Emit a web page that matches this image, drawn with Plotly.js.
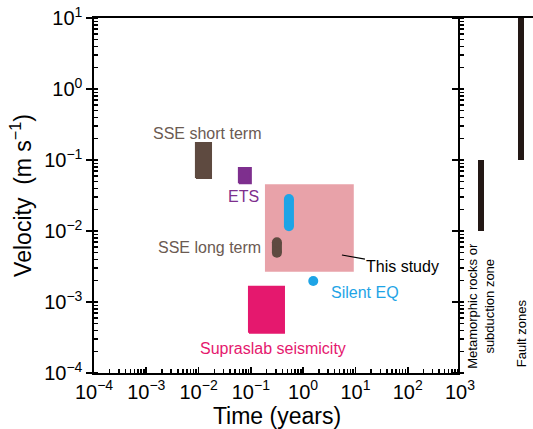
<!DOCTYPE html>
<html>
<head>
<meta charset="utf-8">
<script src="https://cdn.plot.ly/plotly-3.0.1.min.js"></script>
<style>html,body{margin:0;padding:0;background:#fff;}#chart{width:533px;height:429px;}</style>
</head>
<body>
<div id="chart"></div>
<script>
// ---- data ----
// rectangular regions in the main panel: time range (years), velocity range (m/s)
const boxNames  = ['This study', 'SSE short term', 'ETS', 'Supraslab seismicity'];
const boxTime0  = [0.186, 0.0089, 0.059, 0.092];
const boxTime1  = [9.3,   0.0173, 0.100, 0.43];
const boxVel0   = [0.00267, 0.0557, 0.047, 0.00037];
const boxVel1   = [0.0455,  0.174,  0.077, 0.00164];

// elongated (rounded) regions: single time, velocity range
const pillNames = ['Silent EQ (range)', 'SSE long term'];
const pillTime  = [0.535, 0.315];
const pillVel0  = [0.0117, 0.00494];
const pillVel1  = [0.0283, 0.00693];

// point
const dotName = 'Silent EQ';
const dotTime = [1.56];
const dotVel  = [0.00198];

// right panel: velocity ranges
const sideCats = ['Metamorphic rocks or<br>subduction zone', 'Fault zones'];
const sideVel0 = [0.01, 0.1];
const sideVel1 = [0.1, 10];

// ticks
const xTickVals = [1e-4, 1e-3, 1e-2, 1e-1, 1e0, 1e1, 1e2, 1e3];
const xTickText = ['10<sup>−4</sup>','10<sup>−3</sup>','10<sup>−2</sup>','10<sup>−1</sup>','10<sup>0</sup>','10<sup>1</sup>','10<sup>2</sup>','10<sup>3</sup>'];
const yTickVals = [1e-4, 1e-3, 1e-2, 1e-1, 1e0, 1e1];
const yTickText = ['10<sup>−4</sup>','10<sup>−3</sup>','10<sup>−2</sup>','10<sup>−1</sup>','10<sup>0</sup>','10<sup>1</sup>'];

// ---- styles ----
const boxColors  = ['#e8a2a9', '#5e4a40', '#7e2f8e', '#e5186e'];
const pillColors = ['#1ea4e6', '#5e4a40'];
const dotColor   = '#1ea4e6';
const sideColor  = '#231815';
const FONT = 'Liberation Sans, Arial, sans-serif';

const traces = [];
boxNames.forEach((n, i) => {
  traces.push({
    type: 'scatter', mode: 'lines', name: n, fill: 'toself',
    x: [boxTime0[i], boxTime1[i], boxTime1[i], boxTime0[i], boxTime0[i]],
    y: [boxVel0[i], boxVel0[i], boxVel1[i], boxVel1[i], boxVel0[i]],
    fillcolor: boxColors[i],
    line: {color: boxColors[i], width: i === 0 ? 0 : 2},
    hoverinfo: 'name', xaxis: 'x', yaxis: 'y'
  });
});
pillNames.forEach((n, i) => {
  traces.push({
    type: 'scatter', mode: 'lines+markers', name: n,
    x: [pillTime[i], pillTime[i]], y: [pillVel0[i], pillVel1[i]],
    line: {color: pillColors[i], width: 10},
    marker: {color: pillColors[i], size: 10, line: {width: 0}},
    hoverinfo: 'name', xaxis: 'x', yaxis: 'y'
  });
});
traces.push({
  type: 'scatter', mode: 'markers', name: dotName, x: dotTime, y: dotVel,
  marker: {color: dotColor, size: 10, line: {width: 0}}, xaxis: 'x', yaxis: 'y'
});
sideCats.forEach((c, i) => {
  traces.push({
    type: 'scatter', mode: 'lines', name: c,
    x: [c, c], y: [sideVel0[i], sideVel1[i]],
    line: {color: sideColor, width: 6}, xaxis: 'x2', yaxis: 'y2'
  });
});

const L = Math.log10;
const lab = (text, x, y, color, xanchor) => ({
  text, x: L(x), y: L(y), xref: 'x', yref: 'y', showarrow: false,
  xanchor: xanchor || 'center', yanchor: 'middle',
  font: {family: FONT, size: 16, color}
});
const annotations = [
  lab('SSE short term', 0.0145, 0.24, '#6b5a52'),
  lab('ETS', 0.0738, 0.0311, '#7e2f8e'),
  lab('SSE long term', 0.170, 0.00577, '#6b5a52', 'right'),
  lab(dotName, 3.11, 0.00138, '#1ea4e6', 'left'),
  lab('Supraslab seismicity', 0.265, 0.000225, '#e5186e'),
  {text: 'This study', x: L(5.52), y: L(0.00459), xref: 'x', yref: 'y',
    showarrow: true, arrowhead: 0, arrowwidth: 1.2, arrowcolor: '#000',
    ax: 61, ay: 11, font: {family: FONT, size: 16, color: '#000'}},
  {text: sideCats[0], x: -0.02, y: 0.19, xref: 'x2', yref: 'paper', textangle: -90, showarrow: false,
    xanchor: 'center', yanchor: 'middle', font: {family: FONT, size: 13, color: '#000'}},
  {text: sideCats[1], x: 1.0, y: 0.112, xref: 'x2', yref: 'paper', textangle: -90, showarrow: false,
    xanchor: 'center', yanchor: 'middle', font: {family: FONT, size: 13, color: '#000'}}
];

const axLine = {showline: true, linecolor: '#000', linewidth: 1.6, showgrid: false, zeroline: false};
const minorT = {ticks: 'inside', ticklen: 4, tickwidth: 1.5, tickcolor: '#000', dtick: 'D1', showgrid: false};

const layout = {
  width: 533, height: 429,
  margin: {l: 94, r: 0, t: 18, b: 56},
  paper_bgcolor: '#fff', plot_bgcolor: 'rgba(0,0,0,0)',
  showlegend: false,
  font: {family: FONT, color: '#000'},
  xaxis: Object.assign({}, axLine, {
    type: 'log', domain: [0, 0.83371], range: [-4, 3], anchor: 'y', mirror: true,
    tickmode: 'array', tickvals: xTickVals, ticktext: xTickText,
    ticks: 'inside', ticklen: 6, tickwidth: 1.6, tickcolor: '#000',
    minor: minorT,
    tickfont: {family: FONT, size: 20, color: '#000'},
    title: {text: 'Time (years)', font: {family: FONT, size: 23, color: '#000'}, standoff: 4}
  }),
  yaxis: Object.assign({}, axLine, {
    type: 'log', domain: [0, 1], range: [-4, 1], anchor: 'x',
    tickmode: 'array', tickvals: yTickVals, ticktext: yTickText,
    ticks: 'outside', ticklen: 6, tickwidth: 1.6, tickcolor: '#000',
    minor: minorT,
    tickfont: {family: FONT, size: 20, color: '#000'},
    title: {text: 'Velocity\u00a0 (m s<sup>−1</sup>)', font: {family: FONT, size: 23, color: '#000'}, standoff: 6}
  }),
  xaxis2: Object.assign({}, axLine, {
    type: 'category', domain: [0.83371, 1], range: [-0.525, 1.3], anchor: 'y2', side: 'top',
    categoryorder: 'array', categoryarray: sideCats, ticks: '', showticklabels: false
  }),
  yaxis2: Object.assign({}, axLine, {
    type: 'log', domain: [0, 1], range: [-4, 1], anchor: 'x2', side: 'left',
    tickmode: 'array', tickvals: yTickVals, ticks: 'outside', ticklen: 6, tickwidth: 1.6, tickcolor: '#000',
    minor: minorT, showticklabels: false
  }),
  annotations
};

Plotly.newPlot('chart', traces, layout, {displayModeBar: false, staticPlot: true});
</script>
</body>
</html>
